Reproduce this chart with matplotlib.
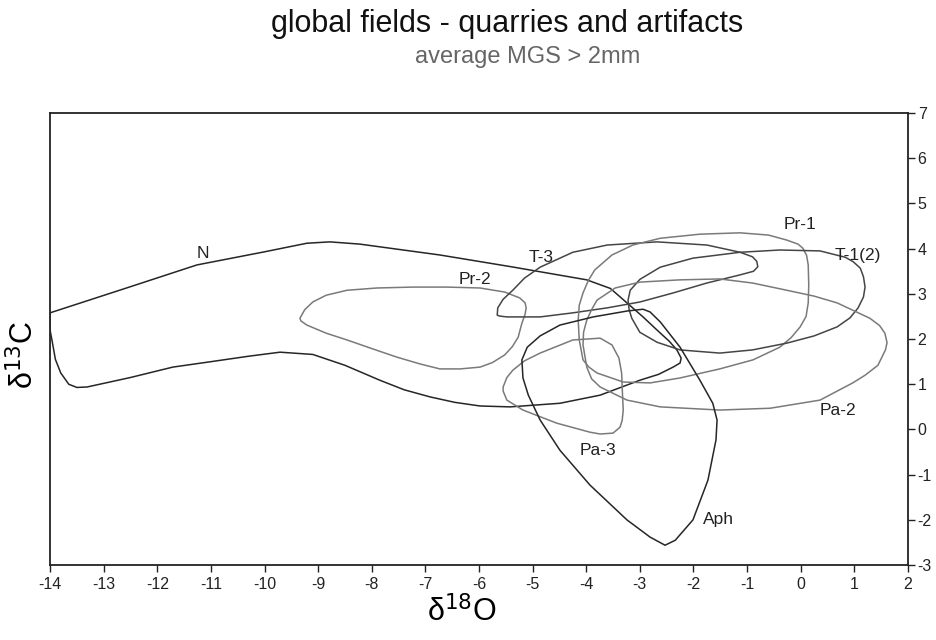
import matplotlib.pyplot as plt
import numpy as np

plt.rcParams['font.family'] = ['Liberation Sans', 'DejaVu Sans']
plt.rcParams['axes.unicode_minus'] = False

# field outlines, d18O (x) / d13C (y)
n_x = [-14.0, -12.6, -11.26, -10.0, -9.21, -8.78, -8.22, -6.73, -5.4, -3.99, -3.55, -3.24,
       -2.95, -2.68, -2.45, -2.31, -2.23, -2.25, -2.38, -2.65, -3.0, -3.74, -4.49, -5.42,
       -5.98, -6.45, -6.91, -7.4, -7.85, -8.5, -9.1, -9.71, -10.3, -11.0, -11.71, -12.5,
       -13.31, -13.5, -13.65, -13.8, -13.9, -13.96, -14.0]
n_y = [2.58, 3.12, 3.64, 3.93, 4.12, 4.15, 4.10, 3.86, 3.6, 3.31, 3.12, 2.80,
       2.5, 2.20, 1.95, 1.76, 1.58, 1.47, 1.38, 1.22, 1.09, 0.76, 0.58, 0.50,
       0.52, 0.6, 0.72, 0.88, 1.09, 1.42, 1.66, 1.71, 1.62, 1.5, 1.38, 1.15,
       0.94, 0.93, 1.0, 1.25, 1.55, 1.95, 2.2]

pr2_x = [-9.34, -9.25, -9.10, -8.85, -8.46, -7.9, -7.23, -6.6, -5.98, -5.52, -5.24, -5.14,
         -5.12, -5.14, -5.2, -5.27, -5.38, -5.52, -5.75, -5.98, -6.35, -6.73, -7.1,
         -7.53, -8.0, -8.46, -8.85, -9.21, -9.32]
pr2_y = [2.46, 2.65, 2.82, 2.97, 3.08, 3.13, 3.15, 3.15, 3.13, 3.04, 2.91, 2.8,
         2.69, 2.55, 2.35, 2.04, 1.83, 1.65, 1.48, 1.38, 1.34, 1.34, 1.45,
         1.60, 1.79, 1.98, 2.13, 2.31, 2.4]

t3_x = [-5.66, -5.65, -5.55, -5.37, -5.15, -4.86, -4.25, -3.61, -2.68, -1.75, -1.13, -0.9,
        -0.82, -0.80, -0.88, -1.13, -1.75, -2.38, -3.0, -3.61, -4.25, -4.86, -5.48, -5.62]
t3_y = [2.53, 2.69, 2.88, 3.08, 3.35, 3.59, 3.92, 4.08, 4.15, 4.08, 3.92, 3.82,
        3.72, 3.6, 3.5, 3.42, 3.24, 3.02, 2.82, 2.69, 2.58, 2.49, 2.49, 2.51]

pr1_x = [-4.15, -4.13, -4.06, -3.96, -3.84, -3.52, -3.13, -2.62, -1.88, -1.13, -0.6, -0.26,
         -0.05, 0.04, 0.11, 0.14, 0.15, 0.14, 0.1, -0.01, -0.18, -0.39, -0.89, -1.51,
         -2.25, -2.81, -3.31, -3.80, -3.95, -4.06, -4.13]
pr1_y = [2.42, 2.75, 3.02, 3.3, 3.53, 3.86, 4.08, 4.23, 4.32, 4.35, 4.3, 4.19,
         4.1, 4.01, 3.85, 3.64, 3.2, 2.80, 2.5, 2.27, 2.03, 1.82, 1.54, 1.34,
         1.14, 1.03, 1.05, 1.25, 1.38, 1.54, 1.98]

t12_x = [-3.22, -3.2, -3.15, -3.0, -2.68, -2.25, -1.51, -0.9, -0.26, 0.25, 0.68, 0.92, 1.07,
         1.17, 1.20, 1.17, 1.11, 0.98, 0.83, 0.36, -0.39, -1.13, -2.01, -2.62, -3.0, -3.18]
t12_y = [2.86, 2.65, 2.46, 2.15, 1.93, 1.76, 1.69, 1.76, 1.91, 2.07, 2.27, 2.47, 2.69,
         2.93, 3.15, 3.38, 3.57, 3.71, 3.81, 3.95, 3.97, 3.92, 3.79, 3.59, 3.32, 3.08]

pa2_x = [-4.06, -4.05, -3.99, -3.9, -3.80, -3.46, -3.0, -2.25, -1.51, -0.9, -0.26, 0.25, 0.68,
         1.29, 1.47, 1.57, 1.61, 1.58, 1.44, 1.2, 0.97, 0.36, -0.57, -1.51, -2.62, -3.24,
         -3.74, -3.9, -3.99]
pa2_y = [1.87, 2.15, 2.42, 2.65, 2.86, 3.13, 3.26, 3.31, 3.33, 3.24, 3.08, 2.95, 2.80,
         2.46, 2.3, 2.13, 1.92, 1.76, 1.42, 1.2, 1.03, 0.65, 0.47, 0.43, 0.50, 0.65,
         0.94, 1.12, 1.38]

pa3_x = [-5.55, -5.48, -5.37, -5.15, -4.86, -4.25, -3.74, -3.52, -3.39, -3.34, -3.33, -3.31,
         -3.33, -3.37, -3.50, -3.74, -3.93, -4.55, -5.18, -5.48, -5.55]
pa3_y = [0.94, 1.15, 1.31, 1.52, 1.69, 1.98, 2.02, 1.87, 1.58, 1.25, 0.94, 0.43,
         0.2, 0.05, -0.08, -0.10, -0.06, 0.14, 0.43, 0.65, 0.85]

aph_x = [-2.94, -3.24, -3.87, -4.49, -4.86, -5.10, -5.20, -5.18, -5.08, -4.86, -4.49,
         -3.93, -3.24, -2.81, -2.53, -2.34, -2.01, -1.73, -1.58, -1.56, -1.64, -1.88,
         -2.25, -2.62, -2.81, -2.94]
aph_y = [2.66, 2.62, 2.49, 2.31, 2.07, 1.82, 1.54, 1.14, 0.76, 0.21, -0.46,
         -1.23, -2.00, -2.38, -2.56, -2.45, -2.0, -1.12, -0.23, 0.21, 0.58, 1.09,
         1.82, 2.38, 2.60, 2.66]

fields = [
    ("N", n_x, n_y, "#262626", (-11.15, 3.9)),
    ("Pr-2", pr2_x, pr2_y, "#7a7a7a", (-6.07, 3.31)),
    ("T-3", t3_x, t3_y, "#454545", (-4.84, 3.81)),
    ("Pr-1", pr1_x, pr1_y, "#7a7a7a", (-0.01, 4.54)),
    ("T-1(2)", t12_x, t12_y, "#454545", (1.07, 3.84)),
    ("Pa-2", pa2_x, pa2_y, "#7a7a7a", (0.70, 0.43)),
    ("Pa-3", pa3_x, pa3_y, "#7a7a7a", (-3.78, -0.46)),
    ("Aph", aph_x, aph_y, "#262626", (-1.54, -2.0)),
]

fig = plt.figure(figsize=(9.37, 6.4), dpi=100)
ax = fig.add_axes([0.0534, 0.117, 0.9156, 0.7064])

for name, xs, ys, col, lab in fields:
    ax.fill(xs, ys, fill=False, edgecolor=col, lw=1.1, joinstyle="round")
    ax.text(lab[0], lab[1], name, ha="center", va="center", fontsize=12.5, color="#222222")

ax.set_xlim(-14, 2)
ax.set_ylim(-3, 7)
ax.set_xticks(np.arange(-14, 3, 1))
ax.set_yticks(np.arange(-3, 8, 1))
ax.yaxis.tick_right()
ax.tick_params(direction="out", length=5, width=1, labelsize=11.5, colors="#222222")
ax.tick_params(axis="y", pad=2)
for s in ax.spines.values():
    s.set_linewidth(1.3)
    s.set_color("#222222")

fig.text(0.493, 0.044, "δ$^{18}$O", fontsize=22, ha="center", va="center")
fig.text(0.026, 0.445, "δ$^{13}$C", fontsize=22, rotation=90, ha="center", va="center")

fig.text(0.541, 0.963, "global fields - quarries and artifacts", fontsize=22, ha="center", va="center", color="#111111")
fig.text(0.563, 0.911, "average MGS > 2mm", fontsize=17, ha="center", va="center", color="#666666")

plt.savefig("out.png", dpi=100)
